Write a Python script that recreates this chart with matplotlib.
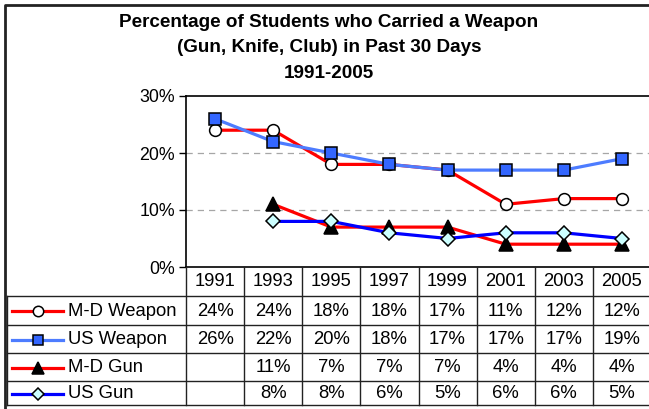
import numpy as np
import matplotlib
matplotlib.use('Agg')
import matplotlib.pyplot as plt
from matplotlib.lines import Line2D

# data (percent)
years = ['1991', '1993', '1995', '1997', '1999', '2001', '2003', '2005']
md_weapon = [24, 24, 18, 18, 17, 11, 12, 12]
us_weapon = [26, 22, 20, 18, 17, 17, 17, 19]
md_gun = [np.nan, 11, 7, 7, 7, 4, 4, 4]
us_gun = [np.nan, 8, 8, 6, 5, 6, 6, 5]

series_names = ['M-D Weapon', 'US Weapon', 'M-D Gun', 'US Gun']
series_values = [md_weapon, us_weapon, md_gun, us_gun]
series_styles = [
    dict(color='#FF0000', marker='o', mfc='white', ms=8.5),
    dict(color='#4D7CFF', marker='s', mfc='#3366FF', ms=8.5),
    dict(color='#FF0000', marker='^', mfc='black', ms=9.5),
    dict(color='#0000FF', marker='D', mfc='#CCFFFF', ms=7.5),
]

plt.rcParams['font.family'] = ['Liberation Sans', 'DejaVu Sans']

W, H = 649, 409
fig = plt.figure(figsize=(W / 100, H / 100), dpi=100)

# plot area in pixels
px_left, px_right, px_top, px_bot = 186, 651, 96, 267
ax = fig.add_axes([px_left / W, 1 - px_bot / H, (px_right - px_left) / W, (px_bot - px_top) / H])

x = np.arange(len(years))
for vals, st in zip(series_values, series_styles):
    ax.plot(x, vals, color=st['color'], lw=2.3, marker=st['marker'], ms=st['ms'],
            mfc=st['mfc'], mec='black', mew=1.1, zorder=3, clip_on=False)

ax.set_xlim(-0.5, len(years) - 0.5)
ax.set_ylim(0, 30)
ax.set_yticks([0, 10, 20, 30])
ax.set_yticklabels(['0%', '10%', '20%', '30%'], fontsize=12.8)
ax.set_xticks([])
for yv in [10, 20]:
    ax.axhline(yv, color='#A6A6A6', lw=0.9, ls=(0, (5, 4)), zorder=1)
ax.tick_params(axis='y', length=5, width=1, pad=3)
ax.spines['right'].set_visible(False)
for s in ['left', 'top', 'bottom']:
    ax.spines[s].set_linewidth(1.2)

# title
fig.text(329 / W, 1 - 48 / H, 'Percentage of Students who Carried a Weapon\n(Gun, Knife, Club) in Past 30 Days\n1991-2005',
         ha='center', va='center', fontsize=13.6, fontweight='bold', linespacing=1.63)

# data table drawn in pixel coordinates on an overlay
ov = fig.add_axes([0, 0, 1, 1])
ov.set_xlim(0, W)
ov.set_ylim(H, 0)
ov.axis('off')
ov.patch.set_visible(False)

col_w = (px_right - px_left) / len(years)
row_edges = [px_bot, 296, 325, 353, 381, 405]
tab_left = 7

# figure border
ov.plot([5, 5, W + 5], [H + 5, 5, 5], color='#222222', lw=2, solid_capstyle='butt')

# table grid
for i in range(len(years) + 1):
    xx = px_left + i * col_w
    ov.plot([xx, xx], [row_edges[0], row_edges[-1]], color='#222222', lw=1)
for yy in row_edges[1:]:
    ov.plot([tab_left, W + 5], [yy, yy], color='#222222', lw=1)
ov.plot([tab_left, tab_left], [row_edges[1], row_edges[-1]], color='#222222', lw=1)

# header row
hy = (row_edges[0] + row_edges[1]) / 2 + 0.5
for i, yr in enumerate(years):
    ov.text(px_left + (i + 0.5) * col_w, hy, yr, ha='center', va='center', fontsize=13.2)

# data rows with legend keys
for r, (name, vals, st) in enumerate(zip(series_names, series_values, series_styles)):
    cy = (row_edges[r + 1] + row_edges[r + 2]) / 2 + 0.5
    ov.add_line(Line2D([12, 63], [cy, cy], color=st['color'], lw=2.3))
    ov.add_line(Line2D([37.5], [cy], marker=st['marker'], ms=st['ms'] - 1, mfc=st['mfc'],
                       mec='black', mew=1.1, ls='none'))
    ov.text(68, cy, name, ha='left', va='center', fontsize=13.3)
    for i, v in enumerate(vals):
        if np.isnan(v):
            continue
        ov.text(px_left + (i + 0.5) * col_w, cy, '%d%%' % v, ha='center', va='center', fontsize=13.3)

fig.savefig('out.png', dpi=100)
